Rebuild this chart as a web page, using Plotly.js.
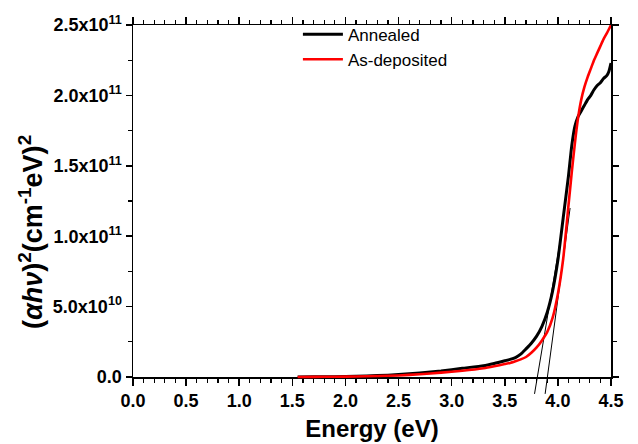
<!DOCTYPE html>
<html><head><meta charset="utf-8">
<script src="https://cdn.plot.ly/plotly-3.0.1.min.js"></script>
<style>html,body{margin:0;padding:0;background:#fff}#chart{width:638px;height:444px}</style>
</head><body><div id="chart"></div>
<script>
// Photon energy (eV) and (alpha h nu)^2 values
const energyAnnealed = [1.55,1.7,1.9,2.1,2.3,2.5,2.7,2.9,3.1,3.3,3.4,3.5,3.55,3.6,3.65,3.7,3.75,3.8,3.85,3.9,3.95,4.0,4.05,4.1,4.13,4.16,4.19,4.22,4.25,4.28,4.31,4.34,4.37,4.4,4.43,4.46,4.48,4.5];
const valuesAnnealed = [0,1e8,2.5e8,5.5e8,1.0e9,1.7e9,2.8e9,4.3e9,6.2e9,8.0e9,9.6e9,1.15e10,1.25e10,1.38e10,1.62e10,2.0e10,2.4e10,2.9e10,3.6e10,4.6e10,6.1e10,8.3e10,1.13e11,1.43e11,1.64e11,1.78e11,1.85e11,1.89e11,1.93e11,1.97e11,2.0e11,2.04e11,2.07e11,2.09e11,2.12e11,2.14e11,2.17e11,2.23e11];
const energyAsDeposited = [1.55,1.7,1.9,2.1,2.3,2.5,2.7,2.9,3.1,3.3,3.4,3.5,3.55,3.6,3.65,3.7,3.75,3.8,3.85,3.9,3.95,4.0,4.05,4.1,4.13,4.16,4.19,4.22,4.25,4.28,4.31,4.34,4.37,4.4,4.43,4.46,4.48,4.5];
const valuesAsDeposited = [0,8e7,2e8,4e8,7e8,1.1e9,1.9e9,3.1e9,4.4e9,6.2e9,7.6e9,9.2e9,1.0e10,1.12e10,1.25e10,1.42e10,1.72e10,2.1e10,2.6e10,3.2e10,4.2e10,5.9e10,8.4e10,1.22e11,1.45e11,1.66e11,1.84e11,1.97e11,2.06e11,2.13e11,2.19e11,2.25e11,2.30e11,2.35e11,2.40e11,2.44e11,2.47e11,2.50e11];
// Tauc tangent (extrapolation) lines
const tangentAnnealedE = [3.780, 4.040];
const tangentAnnealedV = [-1.2e10, 1.05e11];
const tangentAsDepositedE = [3.880, 4.115];
const tangentAsDepositedV = [-1.2e10, 1.2e11];
// Axis ticks
const xTickVals = [0,0.5,1.0,1.5,2.0,2.5,3.0,3.5,4.0,4.5];
const xTickText = ['0.0','0.5','1.0','1.5','2.0','2.5','3.0','3.5','4.0','4.5'];
const yTickVals = [0,5e10,1e11,1.5e11,2e11,2.5e11];
const yTickText = ['0.0','5.0x10<sup>10</sup>','1.0x10<sup>11</sup>','1.5x10<sup>11</sup>','2.0x10<sup>11</sup>','2.5x10<sup>11</sup>'];
const seriesNames = ['Annealed','As-deposited'];

const W = 638, H = 444;
const mL = 133, mR = 27, mT = 25, mB = 40;
const plotH = H - mT - mB;            // 379
const axisBottomPx = 377;             // pixel row of y = 0
const yMax = 2.5e11;
const below = (mT + plotH) - axisBottomPx; // px below y=0 inside plot area
const yDomain0 = below / plotH;
const pxPerUnit = (axisBottomPx - mT) / yMax;
const y2Min = -below / pxPerUnit;

const traces = [
  // single-point anchor so the visible y axis subplot is created (draws no mark)
  {x: [xTickVals[0]], y: [yTickVals[0]], xaxis:'x', yaxis:'y', mode:'lines',
   line:{color:'rgba(0,0,0,0)', width:0}, showlegend:false, hoverinfo:'skip'},
  {x: tangentAnnealedE, y: tangentAnnealedV, xaxis:'x', yaxis:'y2', mode:'lines',
   line:{color:'#000', width:1}, showlegend:false, hoverinfo:'skip'},
  {x: tangentAsDepositedE, y: tangentAsDepositedV, xaxis:'x', yaxis:'y2', mode:'lines',
   line:{color:'#000', width:1}, showlegend:false, hoverinfo:'skip'},
  {x: energyAnnealed, y: valuesAnnealed, xaxis:'x', yaxis:'y2', mode:'lines', name: seriesNames[0],
   line:{color:'#000000', width:3, shape:'spline', smoothing:0.5}},
  {x: energyAsDeposited, y: valuesAsDeposited, xaxis:'x', yaxis:'y2', mode:'lines', name: seriesNames[1],
   line:{color:'#ff0000', width:2.6, shape:'spline', smoothing:0.5}}
];

const tickFont = {family:'Arial, Liberation Sans, sans-serif', size:18, color:'#000', weight:'bold'};
const layout = {
  width: W, height: H,
  margin: {l:mL, r:mR, t:mT, b:mB, pad:0},
  paper_bgcolor:'#fff', plot_bgcolor:'rgba(0,0,0,0)',
  showlegend: true,
  legend: {x:0.345, y:1.022, xanchor:'left', yanchor:'top', bgcolor:'rgba(0,0,0,0)',
           font:{family:'Arial, Liberation Sans, sans-serif', size:17, color:'#000'},
           tracegroupgap:0, itemwidth:40},
  xaxis: {
    anchor:'y', range:[0,4.5], tickmode:'array', tickvals:xTickVals, ticktext:xTickText,
    showgrid:false, zeroline:false, showline:true, linecolor:'#000', linewidth:1.5,
    mirror:'ticks', ticks:'outside', ticklen:7, tickwidth:1.5, tickcolor:'#000',
    tickfont: tickFont,
    minor: {tickmode:'linear', tick0:0, dtick:0.1, ticks:'outside', ticklen:4, tickwidth:1.2, tickcolor:'#000', showgrid:false},
    title: {text:'Energy (eV)', standoff:10,
            font:{family:'Arial, Liberation Sans, sans-serif', size:24, color:'#000', weight:'bold'}}
  },
  yaxis: {
    anchor:'x', domain:[yDomain0, 1], range:[0, yMax], tickmode:'array', tickvals:yTickVals, ticktext:yTickText,
    showgrid:false, zeroline:false, showline:true, linecolor:'#000', linewidth:1.5,
    mirror:'ticks', ticks:'outside', ticklen:6, tickwidth:1.5, tickcolor:'#000',
    tickfont: tickFont,
    minor: {tickmode:'linear', tick0:0, dtick:2.5e10, ticks:'outside', ticklen:4, tickwidth:1.2, tickcolor:'#000', showgrid:false}
  },
  yaxis2: {
    anchor:'x', domain:[0,1], range:[y2Min, yMax], visible:false, showgrid:false, zeroline:false
  },
  annotations: [{
    xref:'paper', yref:'paper', x:-0.2134, y:(mT + plotH - 232) / plotH,
    xanchor:'center', yanchor:'middle', textangle:-90, showarrow:false,
    text:'(<i>αhν</i>)<sup>2</sup>(cm<sup>-1</sup>eV)<sup>2</sup>',
    font:{family:'Arial, Liberation Sans, sans-serif', size:27, color:'#000', weight:'bold'}
  }]
};

Plotly.newPlot('chart', traces, layout, {displayModeBar:false, staticPlot:true});
</script>
</body></html>
